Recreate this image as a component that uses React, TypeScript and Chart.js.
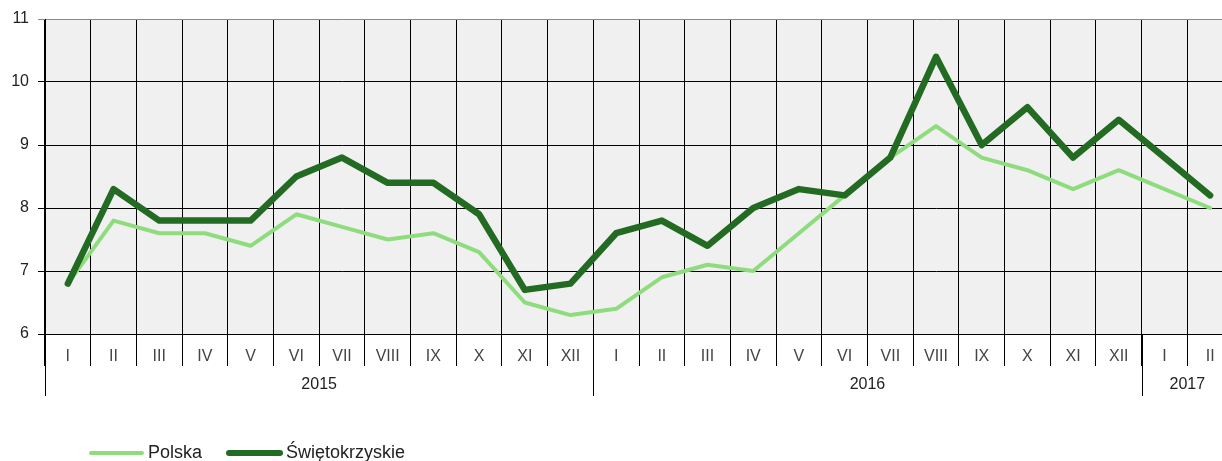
import React, { useEffect, useRef } from 'react';
import { Chart, registerables } from 'chart.js';

Chart.register(...registerables);

const monthLabels = [
  'I', 'II', 'III', 'IV', 'V', 'VI', 'VII', 'VIII', 'IX', 'X', 'XI', 'XII',
  'I', 'II', 'III', 'IV', 'V', 'VI', 'VII', 'VIII', 'IX', 'X', 'XI', 'XII',
  'I', 'II',
];
const yearLabels = ['2015', '2016', '2017'];
const yearMonthCounts = [12, 12, 2];

const polska = [
  6.8, 7.8, 7.6, 7.6, 7.4, 7.9, 7.7, 7.5, 7.6, 7.3, 6.5, 6.3,
  6.4, 6.9, 7.1, 7.0, 7.6, 8.2, 8.8, 9.3, 8.8, 8.6, 8.3, 8.6,
  8.3, 8.0,
];
const swietokrzyskie = [
  6.8, 8.3, 7.8, 7.8, 7.8, 8.5, 8.8, 8.4, 8.4, 7.9, 6.7, 6.8,
  7.6, 7.8, 7.4, 8.0, 8.3, 8.2, 8.8, 10.4, 9.0, 9.6, 8.8, 9.4,
  8.8, 8.2,
];
const seriesNames = ['Polska', 'Świętokrzyskie'];
const yMin = 6;
const yMax = 11;
const yStep = 1;

const FONT = '"Liberation Sans", Arial, Helvetica, sans-serif';
const LIGHT = '#8fdc7f';
const DARK = '#236b22';

const backgroundPlugin = {
  id: 'plotBackground',
  beforeDraw(chart: any) {
    const { ctx, chartArea } = chart;
    ctx.save();
    ctx.fillStyle = '#f0f0f0';
    ctx.fillRect(chartArea.left, chartArea.top, chartArea.right - chartArea.left, chartArea.bottom - chartArea.top);
    ctx.restore();
  },
};

const yearAxisPlugin = {
  id: 'yearAxis',
  afterDraw(chart: any) {
    const { ctx, chartArea } = chart;
    const x = chart.scales.x;
    const step = x.getPixelForValue(1) - x.getPixelForValue(0);
    const bottom = chartArea.bottom;
    ctx.save();
    ctx.strokeStyle = '#000';
    ctx.lineWidth = 1;
    ctx.fillStyle = '#222';
    ctx.font = `16px ${FONT}`;
    ctx.textAlign = 'center';
    ctx.textBaseline = 'middle';
    let idx = 0;
    yearLabels.forEach((label, i) => {
      const start = x.getPixelForValue(idx) - step / 2;
      const end = x.getPixelForValue(idx + yearMonthCounts[i] - 1) + step / 2;
      const sx = Math.round(start) + 0.5;
      ctx.beginPath();
      ctx.moveTo(sx, bottom);
      ctx.lineTo(sx, bottom + 62);
      ctx.stroke();
      ctx.fillText(label, (start + end) / 2, bottom + 51);
      idx += yearMonthCounts[i];
    });
    ctx.restore();
  },
};

const legendPlugin = {
  id: 'customLegend',
  afterDraw(chart: any) {
    const { ctx } = chart;
    const widths = [4, 6];
    ctx.save();
    ctx.font = `18px ${FONT}`;
    ctx.textBaseline = 'middle';
    ctx.textAlign = 'left';
    let x = 91;
    const y = 453;
    chart.data.datasets.forEach((ds: any, i: number) => {
      ctx.strokeStyle = ds.borderColor;
      ctx.lineWidth = widths[i] || 4;
      ctx.lineCap = 'round';
      ctx.beginPath();
      ctx.moveTo(x, y);
      ctx.lineTo(x + 51, y);
      ctx.stroke();
      ctx.fillStyle = '#222';
      const tx = x + 57;
      ctx.fillText(ds.label, tx, y);
      x = tx + ctx.measureText(ds.label).width + 27;
    });
    ctx.restore();
  },
};

export default function App() {
  const canvasRef = useRef<HTMLCanvasElement | null>(null);

  useEffect(() => {
    if (!canvasRef.current) return;
    const chart = new Chart(canvasRef.current, {
      type: 'line',
      data: {
        labels: monthLabels,
        datasets: [
          {
            label: seriesNames[0],
            data: polska,
            borderColor: LIGHT,
            backgroundColor: LIGHT,
            borderWidth: 4,
            pointRadius: 0,
            tension: 0,
            borderJoinStyle: 'round',
            borderCapStyle: 'round',
            order: 1,
          },
          {
            label: seriesNames[1],
            data: swietokrzyskie,
            borderColor: DARK,
            backgroundColor: DARK,
            borderWidth: 6.5,
            pointRadius: 0,
            tension: 0,
            borderJoinStyle: 'round',
            borderCapStyle: 'round',
            order: 0,
          },
        ],
      },
      options: {
        responsive: false,
        animation: false,
        layout: { padding: { left: 0, right: 7, top: 19, bottom: 0 } },
        plugins: {
          legend: { display: false },
          tooltip: { enabled: false },
        },
        scales: {
          x: {
            type: 'category',
            offset: true,
            grid: {
              offset: true,
              color: '#000',
              lineWidth: 1,
              drawTicks: true,
              tickLength: 32,
            },
            border: { color: '#000', width: 1 },
            ticks: {
              autoSkip: false,
              maxRotation: 0,
              minRotation: 0,
              padding: -19,
              color: '#444',
              font: { family: FONT, size: 16 },
            },
            afterFit(scale: any) {
              scale.height = 127;
            },
          },
          y: {
            min: yMin,
            max: yMax,
            grid: {
              color: (c: any) => (c.tick && c.tick.value === yMax ? '#888' : '#000'),
              lineWidth: 1,
              drawTicks: true,
              tickLength: 7,
            },
            border: { color: '#000', width: 1 },
            ticks: {
              stepSize: yStep,
              padding: 9,
              color: '#222',
              font: { family: FONT, size: 16 },
            },
            afterFit(scale: any) {
              scale.width = 45;
            },
          },
        },
      },
      plugins: [backgroundPlugin, yearAxisPlugin, legendPlugin],
    } as any);
    return () => chart.destroy();
  }, []);

  return (
    <div style={{ position: 'fixed', left: 0, top: 0, width: 1222, height: 461, overflow: 'hidden', background: '#fff' }}>
      <canvas ref={canvasRef} width={1240} height={461} style={{ display: 'block', width: 1240, height: 461 }} />
    </div>
  );
}
